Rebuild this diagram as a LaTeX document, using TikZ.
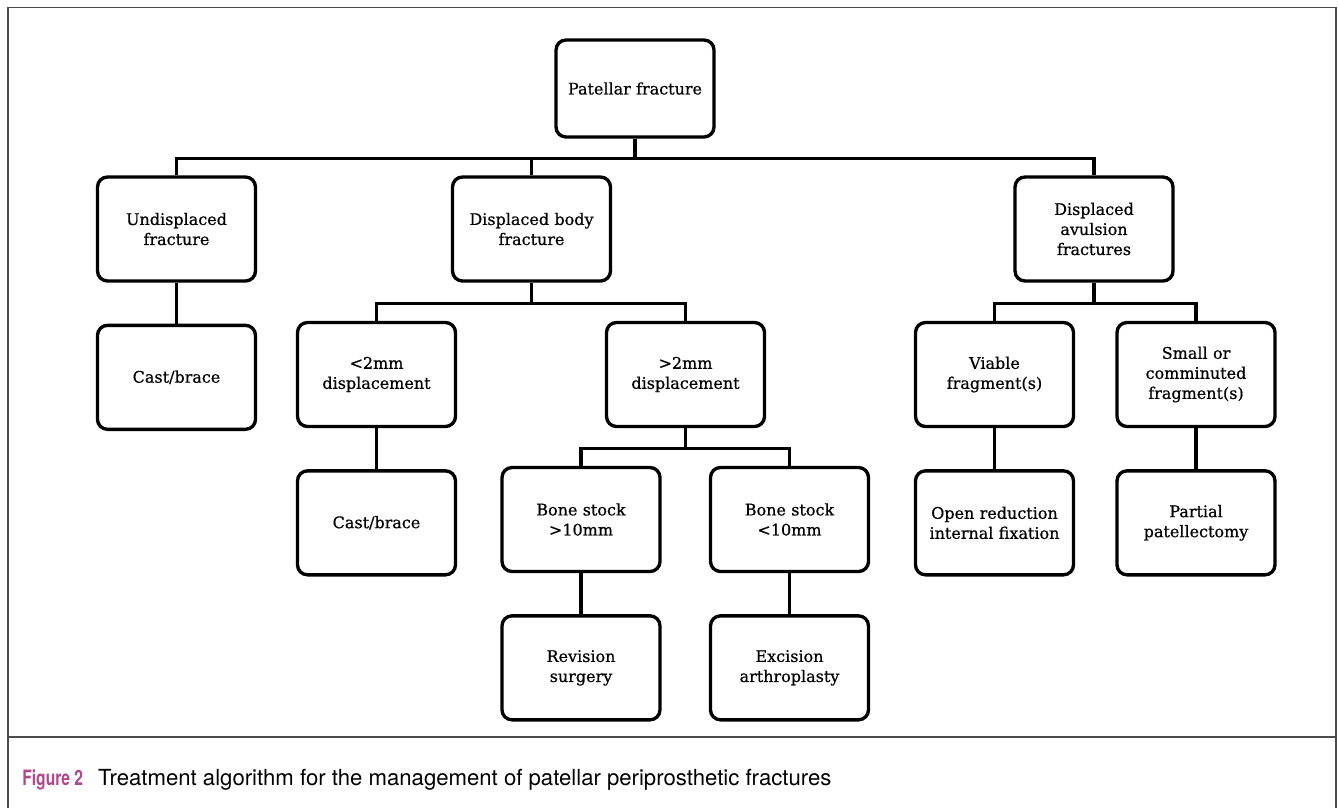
\documentclass[tikz,border=0pt]{standalone}
\usepackage{fontspec}
\usepackage{xcolor}
\setmainfont{DejaVu Serif}
\newfontfamily\boxfont[FakeBold=0.6]{DejaVu Serif}
\newfontfamily\capfont{TeX Gyre Heros}
\newfontfamily\capnarrow[FakeStretch=0.74]{TeX Gyre Heros}
\usetikzlibrary{positioning}
\definecolor{figpink}{HTML}{B0468C}

\begin{document}
\begin{tikzpicture}[
  box/.style={draw, line width=1.9pt, rounded corners=0.2cm, minimum width=3.16cm,
    minimum height=2.08cm, text width=3cm, align=center,
    font=\boxfont\fontsize{9.1}{11.4}\selectfont, inner sep=2pt},
  link/.style={line width=1.9pt},
  frame/.style={draw=black!70, line width=0.8pt},
  node distance=0.82cm
]
\useasboundingbox (0,0) rectangle (26.78,-16.16);

% outer frame and caption rule
\draw[frame] (0.16,-16.16) -- (0.16,-0.15) -- (26.72,-0.15) -- (26.72,-16.16);
\draw[frame] (0.16,-14.74) -- (26.72,-14.74);

% levels 1 and 2
\node[box, minimum height=1.94cm] (root) at (12.70,-1.77) {Patellar fracture};
\node[box] (undisp) at (3.53,-4.58) {Undisplaced\\fracture};
\node[box] (dbody) at (10.63,-4.58) {Displaced body\\fracture};
\node[box] (davul) at (21.88,-4.58) {Displaced\\avulsion\\fractures};

% level 3
\node[box, below=of undisp] (cast1) {Cast/brace};
\node[box] (lt2) at (7.53,-7.49) {<2mm\\displacement};
\node[box] (gt2) at (13.71,-7.49) {>2mm\\displacement};
\node[box] (viable) at (19.89,-7.49) {Viable\\fragment(s)};
\node[box] (small) at (23.92,-7.49) {Small or\\comminuted\\fragment(s)};

% level 4
\node[box, below=of lt2] (cast2) {Cast/brace};
\node[box] (bs10) at (11.62,-10.39) {Bone stock\\>10mm};
\node[box] (bsl10) at (15.79,-10.39) {Bone stock\\<10mm};
\node[box, below=of viable] (orif) {Open reduction\\internal fixation};
\node[box, below=of small] (partial) {Partial\\patellectomy};

% level 5
\node[box, below=of bs10] (revision) {Revision\\surgery};
\node[box, below=of bsl10] (excision) {Excision\\arthroplasty};

% connectors
\draw[link] (root.south) -- ++(0,-0.4) -| (undisp.north);
\draw[link] (root.south) -- ++(0,-0.4) -| (dbody.north);
\draw[link] (root.south) -- ++(0,-0.4) -| (davul.north);
\draw[link] (undisp) -- (cast1);
\draw[link] (dbody.south) -- ++(0,-0.41) -| (lt2.north);
\draw[link] (dbody.south) -- ++(0,-0.41) -| (gt2.north);
\draw[link] (davul.south) -- ++(0,-0.41) -| (viable.north);
\draw[link] (davul.south) -- ++(0,-0.41) -| (small.north);
\draw[link] (lt2) -- (cast2);
\draw[link] (gt2.south) -- ++(0,-0.41) -| (bs10.north);
\draw[link] (gt2.south) -- ++(0,-0.41) -| (bsl10.north);
\draw[link] (viable) -- (orif);
\draw[link] (small) -- (partial);
\draw[link] (bs10) -- (revision);
\draw[link] (bsl10) -- (excision);

% caption
\node[anchor=west, inner sep=0pt, font=\capfont\fontsize{12.6}{14}\selectfont] (caption) at (0.44,-15.6)
  {\textcolor{figpink}{\capnarrow\fontsize{12}{14}\selectfont\bfseries Figure 2}\hspace{0.3cm}Treatment algorithm for the management of patellar periprosthetic fractures};
\end{tikzpicture}
\end{document}
